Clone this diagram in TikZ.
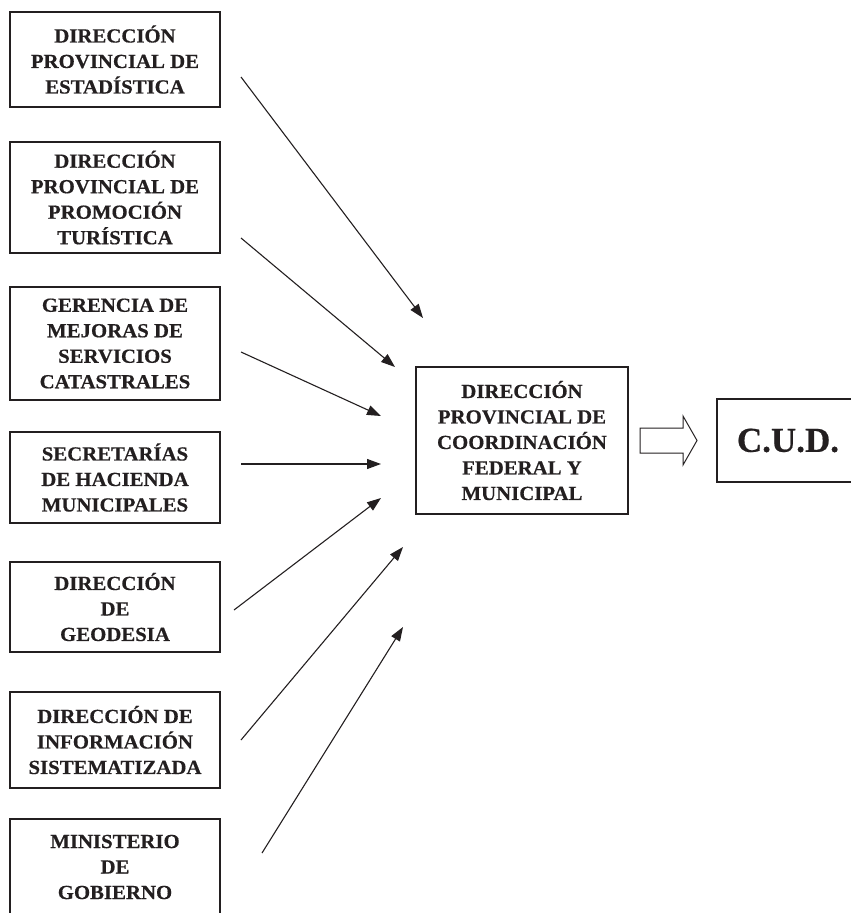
\documentclass[tikz,border=0pt]{standalone}
\usepackage{fontspec}
\setmainfont{Liberation Serif}
\newfontfamily\boxfont{Liberation Serif}[FakeStretch=1.04,FakeBold=0.5]
\newfontfamily\cudfont{Liberation Serif}[FakeBold=0.5]
\usetikzlibrary{arrows.meta}
\definecolor{ink}{RGB}{35,31,32}
\tikzset{
  orgbox/.style={draw=ink, line width=2.4pt, align=center, inner sep=0pt,
    minimum width=210pt, text=ink,
    font=\boxfont\bfseries\fontsize{20}{25.5}\selectfont},
  feed/.style={line width=1.1pt, draw=ink, -{Triangle[length=14pt,width=10pt]}},
  blockarrow/.style={line width=1pt, draw=ink},
}
\begin{document}
\begin{tikzpicture}[x=1pt,y=-1pt]
\useasboundingbox (0,0) rectangle (851,913);
\clip (0,0) rectangle (851,913);

% source boxes
\node[orgbox, minimum height=95pt]  (b1) at (115,59.5)  {DIRECCIÓN\\PROVINCIAL DE\\ESTADÍSTICA};
\node[orgbox, minimum height=111pt] (b2) at (115,197.5) {DIRECCIÓN\\PROVINCIAL DE\\PROMOCIÓN\\TURÍSTICA};
\node[orgbox, minimum height=113pt] (b3) at (115,343.5) {GERENCIA DE\\MEJORAS DE\\SERVICIOS\\CATASTRALES};
\node[orgbox, minimum height=91pt]  (b4) at (115,477.5) {SECRETARÍAS\\DE HACIENDA\\MUNICIPALES};
\node[orgbox, minimum height=90pt]  (b5) at (115,607)   {DIRECCIÓN\\DE\\GEODESIA};
\node[orgbox, minimum height=96pt]  (b6) at (115,740)   {DIRECCIÓN DE\\INFORMACIÓN\\SISTEMATIZADA};
\node[orgbox, minimum height=96pt]  (b7) at (115,867)   {MINISTERIO\\DE\\GOBIERNO};

% central box
\node[orgbox, minimum width=212pt, minimum height=147pt] (c) at (522,440.5)
  {DIRECCIÓN\\PROVINCIAL DE\\COORDINACIÓN\\FEDERAL Y\\MUNICIPAL};

% CUD box
\node[draw=ink, line width=2.4pt, inner sep=0pt, minimum width=142pt, minimum height=83pt,
  text=ink, font=\cudfont\bfseries\fontsize{35}{40}\selectfont] (cud) at (788,440.5) {C.U.D.};

% connector end points
\coordinate (s1) at (241,77);  \coordinate (t1) at (423,318);
\coordinate (s2) at (241,238); \coordinate (t2) at (395,367);
\coordinate (s3) at (241,352); \coordinate (t3) at (381,416);
\coordinate (s4) at (241,464); \coordinate (t4) at (381,464);
\coordinate (s5) at (234,610); \coordinate (t5) at (381,498);
\coordinate (s6) at (241,740); \coordinate (t6) at (403,547);
\coordinate (s7) at (262,853); \coordinate (t7) at (403,627);

\draw[feed] (s1) -- (t1);
\draw[feed] (s2) -- (t2);
\draw[feed] (s3) -- (t3);
\draw[feed] (s4) -- (t4);
\draw[feed] (s5) -- (t5);
\draw[feed] (s6) -- (t6);
\draw[feed] (s7) -- (t7);

% block arrow from central box to C.U.D.
\coordinate (a1) at (640,428);
\coordinate (a2) at (683,428);
\coordinate (a3) at (683,416);
\coordinate (a4) at (697,440.5);
\coordinate (a5) at (683,465);
\coordinate (a6) at (683,453);
\coordinate (a7) at (640,453);
\draw[blockarrow, line join=miter] (a1) -- (a2) -- (a3) -- (a4) -- (a5) -- (a6) -- (a7) -- cycle;
\end{tikzpicture}
\end{document}
